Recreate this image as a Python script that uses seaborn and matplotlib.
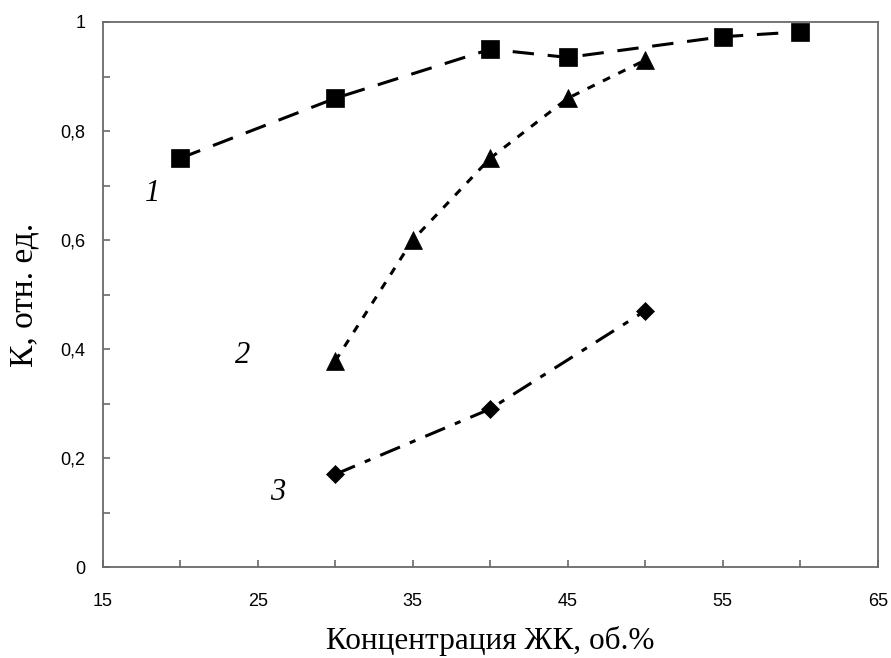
import matplotlib
matplotlib.use("Agg")
import matplotlib.pyplot as plt
import seaborn as sns
import pandas as pd
import numpy as np

# Data
x1 = [20, 30, 40, 45, 55, 60]
y1 = [0.75, 0.86, 0.95, 0.935, 0.973, 0.982]
x2 = [30, 35, 40, 45, 50]
y2 = [0.378, 0.60, 0.75, 0.86, 0.93]
x3 = [30, 40, 50]
y3 = [0.17, 0.29, 0.47]
curve_labels = ["1", "2", "3"]
xticks = [15, 25, 35, 45, 55, 65]
yticks = [0, 0.2, 0.4, 0.6, 0.8, 1.0]
ytick_labels = ["0", "0,2", "0,4", "0,6", "0,8", "1"]
xlabel = "Концентрация ЖК, об.%"
ylabel = "К, отн. ед."

sns.set_theme(style="white")
plt.rcParams["font.family"] = ["Liberation Sans", "DejaVu Sans"]

fig = plt.figure(figsize=(8.91, 6.58), dpi=100)
ax = fig.add_axes([102.7 / 891, 1 - 567 / 658, (877.7 - 102.7) / 891, (567 - 22) / 658])

d1 = pd.DataFrame({"x": x1, "y": y1})
d2 = pd.DataFrame({"x": x2, "y": y2})
d3 = pd.DataFrame({"x": x3, "y": y3})

lw = 2.2
sns.lineplot(data=d1, x="x", y="y", ax=ax, color="black", linewidth=lw,
             linestyle=(0, (7, 4.5)), marker="s", markersize=13.5,
             markeredgecolor="black", markeredgewidth=0.5, zorder=3)
sns.lineplot(data=d2, x="x", y="y", ax=ax, color="black", linewidth=lw,
             linestyle=(0, (2.6, 3.0)), marker="^", markersize=13.5,
             markeredgecolor="black", markeredgewidth=0.5, zorder=3)
sns.lineplot(data=d3, x="x", y="y", ax=ax, color="black", linewidth=lw,
             linestyle=(0, (7, 3.5, 2, 3.5)), marker="D", markersize=9.5,
             markeredgecolor="black", markeredgewidth=0.5, zorder=3)

# curve number labels
label_pos = [(18.2, 0.685), (24.05, 0.388), (26.3, 0.136)]
for t, (lx, ly) in zip(curve_labels, label_pos):
    ax.text(lx, ly, t, fontsize=22, style="italic", family="Liberation Serif",
            ha="center", va="center", color="black")

ax.set_xlim(15, 65)
ax.set_ylim(0, 1)
xt = list(range(15, 66, 5))
ax.set_xticks(xt)
ax.set_xticklabels([str(v) if v in xticks else "" for v in xt])
yt = [round(v * 0.1, 1) for v in range(11)]
ax.set_yticks(yt)
ax.set_yticklabels([ytick_labels[yticks.index(v)] if v in yticks else "" for v in yt])

spine_col = "#6a6a6a"
for s in ax.spines.values():
    s.set_visible(True)
    s.set_color(spine_col)
    s.set_linewidth(1.3)

ax.tick_params(axis="both", direction="in", length=5, width=1.2, color=spine_col,
               labelcolor="black", labelsize=13)
ax.tick_params(axis="y", pad=12.5, left=True)
ax.tick_params(axis="x", pad=19, bottom=True)
ax.grid(False)

ax.set_xlabel(xlabel, fontsize=22.5, family="Liberation Serif", color="black")
ax.xaxis.set_label_coords(0.5, -0.108)
ax.set_ylabel(ylabel, fontsize=24, family="Liberation Serif", color="black")
ax.yaxis.set_label_coords(-0.082, 0.5)

fig.savefig("out.png", dpi=100, facecolor="white")
